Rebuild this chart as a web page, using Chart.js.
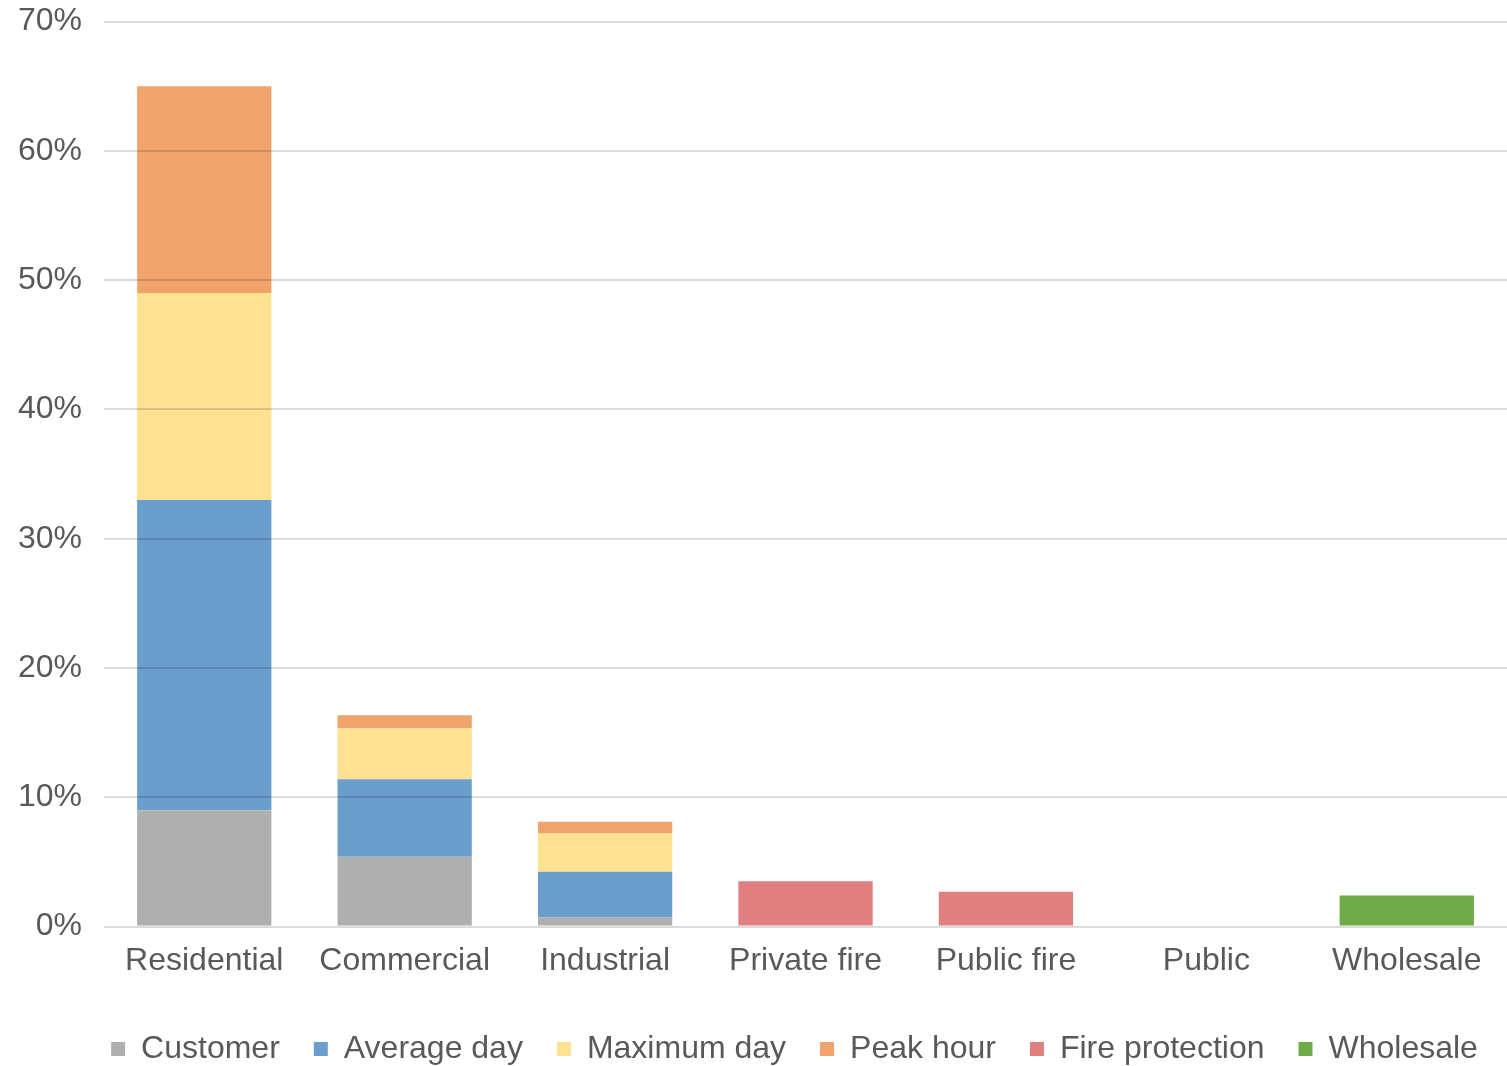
<!DOCTYPE html>
<html>
<head>
<meta charset="utf-8">
<script src="https://cdn.jsdelivr.net/npm/chart.js@4/dist/chart.umd.min.js"></script>
<style>
  html,body{margin:0;padding:0;background:#fff;}
  .cw{position:relative;width:1507px;height:1066px;}
</style>
</head>
<body>
<div class="cw"><canvas id="chAlloc"></canvas></div>
<script>
// categories + series (percent of cost)
const cats        = ['Residential','Commercial','Industrial','Private fire','Public fire','Public','Wholesale'];
const customer    = [9.0, 5.4, 0.7, null, null, null, null];
const avgDay      = [24.0, 6.0, 3.55, null, null, null, null];
const maxDay      = [16.0, 3.95, 2.95, null, null, null, null];
const peakHour    = [16.0, 1.0, 0.9, null, null, null, null];
const fireProt    = [null, null, null, 3.5, 2.7, null, null];
const wholesale   = [null, null, null, null, null, null, 2.4];
const yTicks      = [0, 10, 20, 30, 40, 50, 60, 70];

const FONT = "'Liberation Sans', Arial, sans-serif";
const TXT  = '#595959';

const mkDs = (label, data, color) => ({ label, data, backgroundColor:color, borderWidth:0, barPercentage:.67, categoryPercentage:1 });

// legend sits centred under the plot area, not the whole canvas
const shiftLegend = { id:'shiftLegend', afterLayout(chart) {
  const lg = chart.legend; if (!lg) return;
  lg.left += 37; lg.right += 37;
} };

new Chart(document.getElementById('chAlloc'), {
  type:'bar',
  data:{ labels:cats, datasets:[
    mkDs('Customer', customer, '#afafaf'),
    mkDs('Average day', avgDay, '#6a9ecd'),
    mkDs('Maximum day', maxDay, '#fee292'),
    mkDs('Peak hour', peakHour, '#f0a46c'),
    mkDs('Fire protection', fireProt, '#e07f80'),
    mkDs('Wholesale', wholesale, '#6fab46'),
  ]},
  plugins:[shiftLegend],
  options:{
    responsive:true, maintainAspectRatio:false, animation:false,
    layout:{ padding:{ top:0, left:8, right:0, bottom:-9 } },
    plugins:{
      tooltip:{ enabled:false },
      legend:{ position:'bottom',
        labels:{ boxWidth:14, boxHeight:14, padding:34, color:TXT, font:{ family:FONT, size:32 } } },
    },
    scales:{
      x:{ stacked:true,
        afterFit:ax => { ax.height += 12; },
        grid:{ display:false },
        border:{ display:false },
        ticks:{ color:TXT, padding:7, font:{ family:FONT, size:32 }, maxRotation:0, autoSkip:false } },
      y:{ stacked:true, min:0, max:70,
        afterBuildTicks:ax => { ax.ticks = yTicks.map(v => ({ value:v })); },
        grid:{ color:'rgba(0,0,0,.14)', lineWidth:2, drawTicks:true, tickLength:12, tickColor:'rgba(0,0,0,0)', z:1 },
        border:{ display:false },
        ticks:{ color:TXT, padding:10, font:{ family:FONT, size:32, lineHeight:0.72 }, callback:v => v+'%' } },
    },
  },
});
</script>
</body>
</html>
